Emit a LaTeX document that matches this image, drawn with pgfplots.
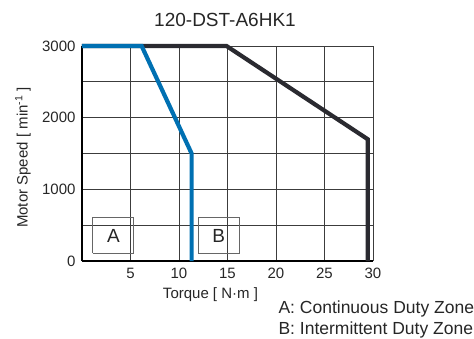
\documentclass[border=0pt]{standalone}
\usepackage{pgfplots}
\pgfplotsset{compat=1.18}
\usepackage{fontspec}
\setmainfont{Liberation Sans}
\definecolor{cblue}{RGB}{0,112,178}
\definecolor{cdark}{RGB}{42,42,48}
\definecolor{cgrid}{RGB}{60,60,60}
\begin{document}
\begin{tikzpicture}
\path[use as bounding box] (-82bp,-78bp) rectangle (392bp,261bp);
\begin{axis}[
  at={(0,0)}, anchor=origin,
  scale only axis, width=291bp, height=215bp,
  xmin=0, xmax=30, ymin=0, ymax=3000,
  xtick={5,10,15,20,25,30},
  ytick={0,1000,2000,3000},
  minor ytick={500,1500,2500},
  grid=both,
  major grid style={cgrid, line width=0.9bp},
  minor grid style={cgrid, line width=0.9bp},
  axis line style={black, line width=1.4bp},
  axis x line*=bottom, axis y line*=left,
  tick style={draw=none},
  minor tick style={draw=none},
  /pgf/number format/assume math mode=true,
  /pgf/number format/1000 sep={},
  ticklabel style={font=\fontsize{15bp}{17bp}\selectfont, text=black!85},
  xticklabel style={yshift=-4bp},
  yticklabel style={xshift=-3bp},
  clip=false,
]
\addplot[cdark, line width=4.2bp, line join=miter] coordinates {(0,3000) (14.9,3000) (29.45,1700) (29.45,0)};
\addplot[cblue, line width=4.2bp, line join=miter] coordinates {(0,3000) (6.15,3000) (11.3,1500) (11.3,0)};
\addplot[gray!80!black, line width=0.8bp] coordinates {(1.1,107) (5.35,107) (5.35,604) (1.1,604) (1.1,107)};
\addplot[gray!80!black, line width=0.8bp] coordinates {(12.0,107) (16.2,107) (16.2,604) (12.0,604) (12.0,107)};
\node[font=\fontsize{19bp}{21bp}\selectfont, text=black!85] at (axis cs:3.25,355) {A};
\node[font=\fontsize{19bp}{21bp}\selectfont, text=black!85] at (axis cs:14.1,355) {B};
\end{axis}
\node[font=\fontsize{19bp}{21bp}\selectfont, text=black!85] at (143bp,241bp) {120-DST-A6HK1};
\node[font=\fontsize{15bp}{17bp}\selectfont, text=black!85, rotate=90] at (-59bp,103.5bp) {Motor Speed [ min\textsuperscript{-1} ]};
\node[font=\fontsize{15bp}{17bp}\selectfont, text=black!85] at (128.5bp,-34bp) {Torque [ N·m ]};
\node[font=\fontsize{17.5bp}{20.7bp}\selectfont, text=black!85, anchor=west] at (193bp,-48bp) {A: Continuous Duty Zone};
\node[font=\fontsize{17.5bp}{20.7bp}\selectfont, text=black!85, anchor=west] at (193bp,-69bp) {B: Intermittent Duty Zone};
\end{tikzpicture}
\end{document}
